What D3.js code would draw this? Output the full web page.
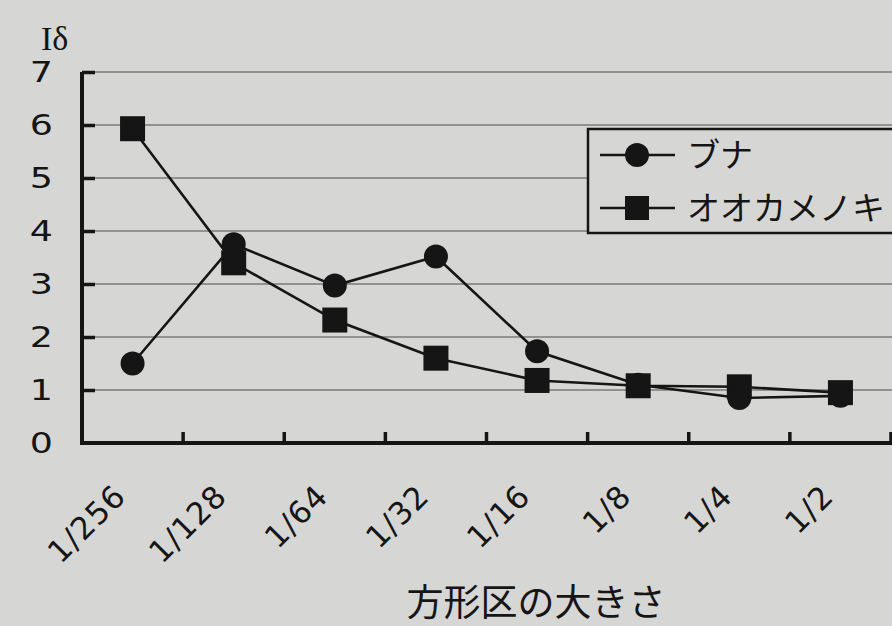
<!DOCTYPE html>
<html><head><meta charset="utf-8">
<script src="https://cdn.jsdelivr.net/npm/d3@7"></script>
<style>body{margin:0;background:#d6d6d4;} svg{display:block}</style>
</head><body><svg id="c" width="892" height="626"></svg>
<script>
// ---- data ----
const categories = ["1/256","1/128","1/64","1/32","1/16","1/8","1/4","1/2"];
const bunaValues = [1.5, 3.75, 2.97, 3.52, 1.73, 1.1, 0.85, 0.89];
const ookamenokiValues = [5.93, 3.4, 2.32, 1.6, 1.18, 1.08, 1.06, 0.95];
const yTicks = [0, 1, 2, 3, 4, 5, 6, 7];
const seriesNames = ["ブナ", "オオカメノキ"];
const yLabel = "Iδ";
const xTitle = "方形区の大きさ";

// ---- layout ----
const svg = d3.select("#c");
const plotL = 82, plotR = 891, plotT = 72, plotB = 443;
const ink = "#151515";
const bg = "#d6d6d4";
const x = d3.scaleBand().domain(categories).range([plotL, plotR]).padding(0);
const y = d3.scaleLinear().domain([0, 7]).range([plotB, plotT]);
const cx = c => x(c) + x.bandwidth() / 2;

svg.append("rect").attr("width", 892).attr("height", 626).attr("fill", bg);

// gridlines
svg.append("g").selectAll("line").data(yTicks.filter(v => v > 0)).join("line")
  .attr("x1", plotL).attr("x2", 892)
  .attr("y1", d => y(d)).attr("y2", d => y(d))
  .attr("stroke", "#7a7a7a").attr("stroke-width", 1.6);

// y axis
const yAxis = svg.append("g").attr("transform", `translate(${plotL},0)`)
  .call(d3.axisLeft(y).tickValues(yTicks).tickFormat(d3.format("d"))
    .tickSizeInner(-13).tickSizeOuter(0).tickPadding(29));
yAxis.select(".domain").attr("stroke", ink).attr("stroke-width", 4)
  .attr("d", `M0,${plotT}V${plotB + 2}`);
yAxis.selectAll(".tick line").attr("stroke", ink).attr("stroke-width", 3.5)
  .filter(d => d === 0).remove();
yAxis.selectAll(".tick text")
  .attr("fill", ink).attr("font-family", "DejaVu Sans, sans-serif").attr("font-size", 28)
  .attr("x", -29 / 1.3).attr("dy", "0.34em").attr("transform", "scale(1.3,1)");

// x axis
const xAxis = svg.append("g").attr("transform", `translate(0,${plotB})`)
  .call(d3.axisBottom(x).tickSize(0).tickPadding(0));
xAxis.select(".domain").attr("stroke", ink).attr("stroke-width", 4)
  .attr("d", `M${plotL - 2},0H892`);
xAxis.selectAll(".tick text")
  .attr("fill", ink).attr("font-family", "DejaVu Sans, sans-serif").attr("font-size", 31)
  .attr("letter-spacing", 1)
  .attr("x", 0).attr("y", 0).attr("dy", 0).attr("text-anchor", "end")
  .attr("transform", "translate(-5,55) rotate(-45)");
// boundary ticks (pointing up)
svg.append("g").selectAll("line").data(categories).join("line")
  .attr("x1", d => x(d) + x.bandwidth()).attr("x2", d => x(d) + x.bandwidth())
  .attr("y1", plotB).attr("y2", plotB - 11)
  .attr("stroke", ink).attr("stroke-width", 3.5);

// series
const line = d3.line().x((d, i) => cx(categories[i])).y(d => y(d));
svg.append("path").datum(bunaValues).attr("d", line)
  .attr("fill", "none").attr("stroke", ink).attr("stroke-width", 2.6);
svg.append("path").datum(ookamenokiValues).attr("d", line)
  .attr("fill", "none").attr("stroke", ink).attr("stroke-width", 2.6);

svg.append("g").selectAll("rect").data(ookamenokiValues).join("rect")
  .attr("x", (d, i) => cx(categories[i]) - 12.5).attr("y", d => y(d) - 12.5)
  .attr("width", 25).attr("height", 25).attr("fill", ink);
svg.append("g").selectAll("circle").data(bunaValues).join("circle")
  .attr("cx", (d, i) => cx(categories[i])).attr("cy", d => y(d))
  .attr("r", 12).attr("fill", ink);

// y label
svg.append("text").attr("x", 41).attr("y", 50)
  .attr("font-family", "Liberation Serif, serif").attr("font-size", 34).attr("fill", ink)
  .text(yLabel);

// x title
svg.append("text").attr("x", 536).attr("y", 616).attr("text-anchor", "middle")
  .attr("font-family", "Noto Sans CJK JP, sans-serif").attr("font-size", 37).attr("fill", ink)
  .text(xTitle);

// legend
const lg = svg.append("g");
lg.append("rect").attr("x", 588).attr("y", 129).attr("width", 330).attr("height", 104)
  .attr("fill", bg).attr("stroke", ink).attr("stroke-width", 2.5);
const rows = [155, 208];
seriesNames.forEach((name, i) => {
  const yy = rows[i];
  lg.append("line").attr("x1", 600).attr("x2", 675).attr("y1", yy).attr("y2", yy)
    .attr("stroke", ink).attr("stroke-width", 2.6);
  if (i === 0) lg.append("circle").attr("cx", 637).attr("cy", yy).attr("r", 12).attr("fill", ink);
  else lg.append("rect").attr("x", 625).attr("y", yy - 12).attr("width", 24).attr("height", 24).attr("fill", ink);
  lg.append("text").attr("x", 687).attr("y", yy + 12)
    .attr("font-family", "Noto Sans CJK JP, sans-serif").attr("font-size", 33).attr("fill", ink)
    .text(name);
});
</script></body></html>
